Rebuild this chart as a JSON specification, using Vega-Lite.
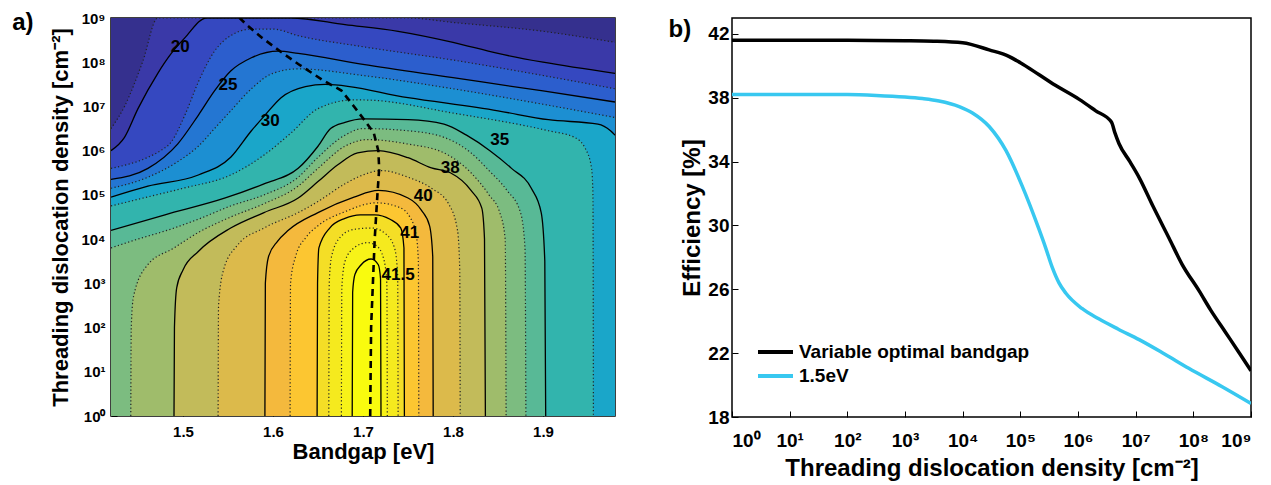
{
"$schema":"https://vega.github.io/schema/vega-lite/v6.json",
"padding":{"left":11,"top":10,"right":5,"bottom":3},
"spacing":51,
"resolve":{"legend":{"color":"independent"}},
"config":{"font":"Liberation Sans","view":{"stroke":"#000","strokeWidth":1.5},
 "axis":{"labelFont":"Liberation Sans","titleFont":"Liberation Sans","labelFontWeight":"bold","titleFontWeight":"bold","labelColor":"#000","titleColor":"#000","domain":false,"grid":false,"tickColor":"#000","tickSize":-6}},
"datasets":{
"cont":[
{"lev":"base","eg":1.42,"d":1e9},{"lev":"base","eg":1.98,"d":1e9},
{"lev":"17.5","eg":1.42,"d":3.16e6},{"lev":"17.5","eg":1.435,"d":1e7},{"lev":"17.5","eg":1.455,"d":1e8},{"lev":"17.5","eg":1.472,"d":1e9},{"lev":"17.5","eg":1.75,"d":1e9},{"lev":"17.5","eg":1.8,"d":7.94e8},{"lev":"17.5","eg":1.9,"d":5.01e8},{"lev":"17.5","eg":1.98,"d":2.82e8},
{"lev":"20","eg":1.42,"d":1e6},{"lev":"20","eg":1.435,"d":2e6},{"lev":"20","eg":1.45,"d":8.91e6},{"lev":"20","eg":1.472,"d":5.62e7},{"lev":"20","eg":1.487,"d":1.58e8},{"lev":"20","eg":1.502,"d":3.55e8},{"lev":"20","eg":1.526,"d":1e9},{"lev":"20","eg":1.62,"d":1e9},{"lev":"20","eg":1.68,"d":7.08e8},{"lev":"20","eg":1.739,"d":5.01e8},{"lev":"20","eg":1.8,"d":2.82e8},{"lev":"20","eg":1.85,"d":1.58e8},{"lev":"20","eg":1.9,"d":1e8},{"lev":"20","eg":1.98,"d":5.62e7},
{"lev":"22.5","eg":1.42,"d":3.98e5},{"lev":"22.5","eg":1.461,"d":7.08e5},{"lev":"22.5","eg":1.475,"d":1e6},{"lev":"22.5","eg":1.487,"d":1.58e6},{"lev":"22.5","eg":1.502,"d":6.31e6},{"lev":"22.5","eg":1.517,"d":3.55e7},{"lev":"22.5","eg":1.535,"d":1.78e8},{"lev":"22.5","eg":1.553,"d":3.98e8},{"lev":"22.5","eg":1.576,"d":5.62e8},{"lev":"22.5","eg":1.6,"d":5.62e8},{"lev":"22.5","eg":1.628,"d":3.98e8},{"lev":"22.5","eg":1.7,"d":2.24e8},{"lev":"22.5","eg":1.8,"d":1.12e8},{"lev":"22.5","eg":1.9,"d":5.01e7},{"lev":"22.5","eg":1.98,"d":2.51e7},
{"lev":"25","eg":1.42,"d":2.24e5},{"lev":"25","eg":1.461,"d":3.98e5},{"lev":"25","eg":1.494,"d":1.41e6},{"lev":"25","eg":1.517,"d":6.31e6},{"lev":"25","eg":1.535,"d":2.24e7},{"lev":"25","eg":1.553,"d":6.31e7},{"lev":"25","eg":1.576,"d":1.26e8},{"lev":"25","eg":1.606,"d":1.78e8},{"lev":"25","eg":1.628,"d":1.58e8},{"lev":"25","eg":1.7,"d":8.91e7},{"lev":"25","eg":1.8,"d":4.47e7},{"lev":"25","eg":1.9,"d":2.24e7},{"lev":"25","eg":1.98,"d":1.26e7},
{"lev":"27.5","eg":1.42,"d":1.41e5},{"lev":"27.5","eg":1.461,"d":2.51e5},{"lev":"27.5","eg":1.494,"d":5.62e5},{"lev":"27.5","eg":1.517,"d":1.26e6},{"lev":"27.5","eg":1.535,"d":3.16e6},{"lev":"27.5","eg":1.553,"d":7.94e6},{"lev":"27.5","eg":1.576,"d":2.51e7},{"lev":"27.5","eg":1.6,"d":5.62e7},{"lev":"27.5","eg":1.628,"d":7.08e7},{"lev":"27.5","eg":1.7,"d":5.01e7},{"lev":"27.5","eg":1.8,"d":2.51e7},{"lev":"27.5","eg":1.9,"d":1.12e7},{"lev":"27.5","eg":1.98,"d":5.62e6},
{"lev":"30","eg":1.42,"d":8.91e4},{"lev":"30","eg":1.461,"d":1.58e5},{"lev":"30","eg":1.517,"d":2.82e5},{"lev":"30","eg":1.553,"d":7.08e5},{"lev":"30","eg":1.576,"d":2.82e6},{"lev":"30","eg":1.591,"d":6.31e6},{"lev":"30","eg":1.609,"d":1.58e7},{"lev":"30","eg":1.636,"d":2.82e7},{"lev":"30","eg":1.658,"d":3.16e7},{"lev":"30","eg":1.75,"d":1.58e7},{"lev":"30","eg":1.85,"d":7.94e6},{"lev":"30","eg":1.906,"d":5.01e6},{"lev":"30","eg":1.961,"d":3.98e6},{"lev":"30","eg":1.975,"d":2.82e6},{"lev":"30","eg":1.98,"d":2.24e6},
{"lev":"32.5","eg":1.42,"d":5.62e4},{"lev":"32.5","eg":1.46,"d":8.91e4},{"lev":"32.5","eg":1.5,"d":1.41e5},{"lev":"32.5","eg":1.553,"d":2.82e5},{"lev":"32.5","eg":1.59,"d":7.94e5},{"lev":"32.5","eg":1.62,"d":2.51e6},{"lev":"32.5","eg":1.65,"d":8.91e6},{"lev":"32.5","eg":1.69,"d":1.41e7},{"lev":"32.5","eg":1.71,"d":1.38e7},{"lev":"32.5","eg":1.8,"d":7.08e6},{"lev":"32.5","eg":1.906,"d":2.82e6},{"lev":"32.5","eg":1.935,"d":2e6},{"lev":"32.5","eg":1.947,"d":1.12e6},{"lev":"32.5","eg":1.954,"d":3.98e5},{"lev":"32.5","eg":1.9555,"d":1e5},{"lev":"32.5","eg":1.956,"d":1},
{"lev":"35","eg":1.42,"d":1.58e4},{"lev":"35","eg":1.48,"d":3.55e4},{"lev":"35","eg":1.547,"d":8.51e4},{"lev":"35","eg":1.59,"d":1.78e5},{"lev":"35","eg":1.628,"d":3.98e5},{"lev":"35","eg":1.65,"d":1.26e6},{"lev":"35","eg":1.664,"d":3.16e6},{"lev":"35","eg":1.68,"d":4.37e6},{"lev":"35","eg":1.7,"d":5.25e6},{"lev":"35","eg":1.75,"d":5.01e6},{"lev":"35","eg":1.79,"d":3.98e6},{"lev":"35","eg":1.815,"d":2.24e6},{"lev":"35","eg":1.841,"d":1e6},{"lev":"35","eg":1.865,"d":3.98e5},{"lev":"35","eg":1.887,"d":1.41e5},{"lev":"35","eg":1.898,"d":3.98e4},{"lev":"35","eg":1.902,"d":3.16e3},{"lev":"35","eg":1.903,"d":1},
{"lev":"36","eg":1.42,"d":6.31e3},{"lev":"36","eg":1.442,"d":8.91e3},{"lev":"36","eg":1.49,"d":1.78e4},{"lev":"36","eg":1.517,"d":2.82e4},{"lev":"36","eg":1.553,"d":5.62e4},{"lev":"36","eg":1.59,"d":1e5},{"lev":"36","eg":1.628,"d":2.51e5},{"lev":"36","eg":1.65,"d":7.08e5},{"lev":"36","eg":1.68,"d":2.24e6},{"lev":"36","eg":1.7,"d":3.16e6},{"lev":"36","eg":1.75,"d":2.82e6},{"lev":"36","eg":1.79,"d":2e6},{"lev":"36","eg":1.82,"d":8.91e5},{"lev":"36","eg":1.84,"d":3.55e5},{"lev":"36","eg":1.86,"d":1.26e5},{"lev":"36","eg":1.875,"d":3.98e4},{"lev":"36","eg":1.88,"d":6.31e3},{"lev":"36","eg":1.881,"d":1},
{"lev":"37","eg":1.442,"d":1},{"lev":"37","eg":1.4425,"d":100},{"lev":"37","eg":1.445,"d":501},{"lev":"37","eg":1.46,"d":2.51e3},{"lev":"37","eg":1.49,"d":6.31e3},{"lev":"37","eg":1.517,"d":1.41e4},{"lev":"37","eg":1.553,"d":3.16e4},{"lev":"37","eg":1.59,"d":6.31e4},{"lev":"37","eg":1.628,"d":1.58e5},{"lev":"37","eg":1.65,"d":3.98e5},{"lev":"37","eg":1.68,"d":1.26e6},{"lev":"37","eg":1.705,"d":1.78e6},{"lev":"37","eg":1.75,"d":1.41e6},{"lev":"37","eg":1.79,"d":8.91e5},{"lev":"37","eg":1.82,"d":3.16e5},{"lev":"37","eg":1.84,"d":1e5},{"lev":"37","eg":1.852,"d":3.98e4},{"lev":"37","eg":1.858,"d":1e4},{"lev":"37","eg":1.859,"d":1},
{"lev":"38","eg":1.49,"d":1},{"lev":"38","eg":1.4905,"d":100},{"lev":"38","eg":1.493,"d":794},{"lev":"38","eg":1.5,"d":2e3},{"lev":"38","eg":1.517,"d":5.25e3},{"lev":"38","eg":1.553,"d":1.78e4},{"lev":"38","eg":1.59,"d":3.98e4},{"lev":"38","eg":1.628,"d":8.51e4},{"lev":"38","eg":1.65,"d":2e5},{"lev":"38","eg":1.672,"d":4.79e5},{"lev":"38","eg":1.694,"d":8.91e5},{"lev":"38","eg":1.717,"d":1e6},{"lev":"38","eg":1.75,"d":6.92e5},{"lev":"38","eg":1.776,"d":4.07e5},{"lev":"38","eg":1.797,"d":3.16e5},{"lev":"38","eg":1.82,"d":1.26e5},{"lev":"38","eg":1.832,"d":5.01e4},{"lev":"38","eg":1.835,"d":1e4},{"lev":"38","eg":1.836,"d":1},
{"lev":"39","eg":1.539,"d":1},{"lev":"39","eg":1.5395,"d":316},{"lev":"39","eg":1.545,"d":2e3},{"lev":"39","eg":1.56,"d":7.08e3},{"lev":"39","eg":1.59,"d":1.78e4},{"lev":"39","eg":1.628,"d":3.98e4},{"lev":"39","eg":1.65,"d":7.08e4},{"lev":"39","eg":1.68,"d":1.78e5},{"lev":"39","eg":1.7,"d":2.82e5},{"lev":"39","eg":1.72,"d":3.55e5},{"lev":"39","eg":1.75,"d":2.51e5},{"lev":"39","eg":1.776,"d":1.41e5},{"lev":"39","eg":1.795,"d":6.31e4},{"lev":"39","eg":1.805,"d":1.58e4},{"lev":"39","eg":1.8075,"d":2e3},{"lev":"39","eg":1.808,"d":1},
{"lev":"40","eg":1.591,"d":1},{"lev":"40","eg":1.5915,"d":1e3},{"lev":"40","eg":1.595,"d":3.98e3},{"lev":"40","eg":1.605,"d":8.91e3},{"lev":"40","eg":1.617,"d":1.58e4},{"lev":"40","eg":1.65,"d":3.98e4},{"lev":"40","eg":1.69,"d":8.91e4},{"lev":"40","eg":1.717,"d":1.26e5},{"lev":"40","eg":1.75,"d":8.51e4},{"lev":"40","eg":1.765,"d":4.47e4},{"lev":"40","eg":1.774,"d":2e4},{"lev":"40","eg":1.7775,"d":3.98e3},{"lev":"40","eg":1.778,"d":1},
{"lev":"40.5","eg":1.619,"d":1},{"lev":"40.5","eg":1.6195,"d":1e3},{"lev":"40.5","eg":1.625,"d":3.98e3},{"lev":"40.5","eg":1.637,"d":1.12e4},{"lev":"40.5","eg":1.65,"d":2e4},{"lev":"40.5","eg":1.68,"d":4.17e4},{"lev":"40.5","eg":1.715,"d":6.61e4},{"lev":"40.5","eg":1.74,"d":5.25e4},{"lev":"40.5","eg":1.752,"d":3.16e4},{"lev":"40.5","eg":1.759,"d":1.26e4},{"lev":"40.5","eg":1.7615,"d":3.16e3},{"lev":"40.5","eg":1.762,"d":1},
{"lev":"41","eg":1.649,"d":1},{"lev":"41","eg":1.6495,"d":1e3},{"lev":"41","eg":1.651,"d":6.31e3},{"lev":"41","eg":1.663,"d":1.78e4},{"lev":"41","eg":1.68,"d":2.95e4},{"lev":"41","eg":1.697,"d":3.55e4},{"lev":"41","eg":1.713,"d":3.55e4},{"lev":"41","eg":1.73,"d":2.82e4},{"lev":"41","eg":1.742,"d":1.78e4},{"lev":"41","eg":1.7455,"d":6.31e3},{"lev":"41","eg":1.746,"d":1},
{"lev":"41.17","eg":1.662,"d":1},{"lev":"41.17","eg":1.6625,"d":1e3},{"lev":"41.17","eg":1.665,"d":3.98e3},{"lev":"41.17","eg":1.675,"d":1.12e4},{"lev":"41.17","eg":1.69,"d":1.66e4},{"lev":"41.17","eg":1.71,"d":1.78e4},{"lev":"41.17","eg":1.725,"d":1.32e4},{"lev":"41.17","eg":1.735,"d":6.31e3},{"lev":"41.17","eg":1.7385,"d":1.58e3},{"lev":"41.17","eg":1.739,"d":1},
{"lev":"41.33","eg":1.676,"d":1},{"lev":"41.33","eg":1.6765,"d":794},{"lev":"41.33","eg":1.68,"d":3.16e3},{"lev":"41.33","eg":1.69,"d":6.31e3},{"lev":"41.33","eg":1.705,"d":8.32e3},{"lev":"41.33","eg":1.715,"d":7.08e3},{"lev":"41.33","eg":1.723,"d":3.55e3},{"lev":"41.33","eg":1.7265,"d":1e3},{"lev":"41.33","eg":1.727,"d":1},
{"lev":"41.5","eg":1.688,"d":1},{"lev":"41.5","eg":1.6885,"d":631},{"lev":"41.5","eg":1.691,"d":1.58e3},{"lev":"41.5","eg":1.698,"d":2.63e3},{"lev":"41.5","eg":1.709,"d":3.55e3},{"lev":"41.5","eg":1.717,"d":2.63e3},{"lev":"41.5","eg":1.7195,"d":1.26e3},{"lev":"41.5","eg":1.72,"d":1}
],
"opt":[
{"eg":1.708,"d":1},{"eg":1.709,"d":100},{"eg":1.711,"d":1e3},{"eg":1.713,"d":1e4},{"eg":1.716,"d":1e5},{"eg":1.718,"d":3.98e5},{"eg":1.717,"d":1e6},{"eg":1.712,"d":2.51e6},{"eg":1.702,"d":4.79e6},{"eg":1.69,"d":1e7},{"eg":1.676,"d":2.29e7},{"eg":1.655,"d":3.98e7},{"eg":1.628,"d":9.12e7},{"eg":1.609,"d":1.7e8},{"eg":1.588,"d":3.55e8},{"eg":1.57,"d":7.24e8},{"eg":1.563,"d":1e9}
],
"lab":[
{"t":"20","eg":1.497,"d":2.19e8},{"t":"25","eg":1.55,"d":3.02e7},{"t":"30","eg":1.597,"d":4.79e6},{"t":"35","eg":1.852,"d":1.7e6},{"t":"38","eg":1.797,"d":4.07e5},{"t":"40","eg":1.767,"d":9.55e4},{"t":"41","eg":1.752,"d":1.38e4},{"t":"41.5","eg":1.739,"d":1.51e3}
],
"eff":[
{"s":"Variable optimal bandgap","d":1,"e":41.6},{"s":"Variable optimal bandgap","d":10,"e":41.6},{"s":"Variable optimal bandgap","d":100,"e":41.6},{"s":"Variable optimal bandgap","d":1e3,"e":41.58},{"s":"Variable optimal bandgap","d":3.16e3,"e":41.55},{"s":"Variable optimal bandgap","d":1e4,"e":41.45},{"s":"Variable optimal bandgap","d":2.88e4,"e":41.0},{"s":"Variable optimal bandgap","d":6.31e4,"e":40.6},{"s":"Variable optimal bandgap","d":1e5,"e":40.2},{"s":"Variable optimal bandgap","d":2.09e5,"e":39.46},{"s":"Variable optimal bandgap","d":3.98e5,"e":38.8},{"s":"Variable optimal bandgap","d":1.05e6,"e":37.9},{"s":"Variable optimal bandgap","d":2e6,"e":37.2},{"s":"Variable optimal bandgap","d":3.8e6,"e":36.48},{"s":"Variable optimal bandgap","d":4.37e6,"e":35.8},{"s":"Variable optimal bandgap","d":5.13e6,"e":35.14},{"s":"Variable optimal bandgap","d":7.94e6,"e":34.0},{"s":"Variable optimal bandgap","d":1.15e7,"e":33.0},{"s":"Variable optimal bandgap","d":2e7,"e":31.2},{"s":"Variable optimal bandgap","d":3.8e7,"e":29.2},{"s":"Variable optimal bandgap","d":6.31e7,"e":27.6},{"s":"Variable optimal bandgap","d":1.26e8,"e":25.9},{"s":"Variable optimal bandgap","d":2e8,"e":24.7},{"s":"Variable optimal bandgap","d":3.63e8,"e":23.3},{"s":"Variable optimal bandgap","d":6.31e8,"e":22.0},{"s":"Variable optimal bandgap","d":1e9,"e":20.9},
{"s":"1.5eV","d":1,"e":38.2},{"s":"1.5eV","d":10,"e":38.2},{"s":"1.5eV","d":100,"e":38.2},{"s":"1.5eV","d":316,"e":38.15},{"s":"1.5eV","d":1e3,"e":38.05},{"s":"1.5eV","d":2e3,"e":37.95},{"s":"1.5eV","d":3.89e3,"e":37.8},{"s":"1.5eV","d":8.71e3,"e":37.45},{"s":"1.5eV","d":1.48e4,"e":37.05},{"s":"1.5eV","d":2.88e4,"e":36.2},{"s":"1.5eV","d":5.62e4,"e":34.7},{"s":"1.5eV","d":1.07e5,"e":32.5},{"s":"1.5eV","d":2.09e5,"e":29.8},{"s":"1.5eV","d":2.75e5,"e":28.6},{"s":"1.5eV","d":3.55e5,"e":27.4},{"s":"1.5eV","d":4.68e5,"e":26.4},{"s":"1.5eV","d":6.17e5,"e":25.75},{"s":"1.5eV","d":1.17e6,"e":24.8},{"s":"1.5eV","d":2.29e6,"e":24.15},{"s":"1.5eV","d":5.01e6,"e":23.5},{"s":"1.5eV","d":1.15e7,"e":22.85},{"s":"1.5eV","d":3.16e7,"e":21.95},{"s":"1.5eV","d":8.32e7,"e":21.05},{"s":"1.5eV","d":3.16e8,"e":19.9},{"s":"1.5eV","d":1e9,"e":18.85}
]
},
"hconcat":[
{
"width":504,"height":398,
"title":{"text":"a)","orient":"left","anchor":"end","angle":0,"align":"right","baseline":"top","fontSize":24,"fontWeight":"bold","font":"Liberation Sans","color":"#000","offset":-5},
"data":{"name":"cont"},
"encoding":{
 "x":{"field":"eg","type":"quantitative","scale":{"domain":[1.42,1.98],"nice":false,"zero":false},
  "axis":{"title":"Bandgap [eV]","values":[1.5,1.6,1.7,1.8,1.9],"format":".1f","labelFontSize":15,"titleFontSize":22,"labelPadding":14,"titlePadding":2}},
 "y":{"field":"d","type":"quantitative","scale":{"type":"log","domain":[1,1e9],"nice":false},
  "axis":{"title":"Threading dislocation density [cm⁻²]","values":[1,10,100,1000,10000,100000,1000000,10000000,100000000,1000000000],"labelExpr":"'10' + ['⁰','¹','²','³','⁴','⁵','⁶','⁷','⁸','⁹'][round(log(datum.value)/LN10)]","labelFontSize":15,"titleFontSize":22,"labelPadding":12,"titlePadding":8}}
},
"layer":[
 {"transform":[{"filter":"datum.lev=='base'"}],"mark":{"type":"area","color":"#35308e","clip":true},"encoding":{"y2":{"datum":1}}},
 {"transform":[{"filter":"datum.lev=='17.5'"}],"mark":{"type":"area","color":"#3a39a8","interpolate":"monotone","clip":true},"encoding":{"y2":{"datum":1}}},
 {"transform":[{"filter":"datum.lev=='20'"}],"mark":{"type":"area","color":"#3548c0","interpolate":"monotone","clip":true},"encoding":{"y2":{"datum":1}}},
 {"transform":[{"filter":"datum.lev=='22.5'"}],"mark":{"type":"area","color":"#2c5ecd","interpolate":"monotone","clip":true},"encoding":{"y2":{"datum":1}}},
 {"transform":[{"filter":"datum.lev=='25'"}],"mark":{"type":"area","color":"#2476d2","interpolate":"monotone","clip":true},"encoding":{"y2":{"datum":1}}},
 {"transform":[{"filter":"datum.lev=='27.5'"}],"mark":{"type":"area","color":"#1c8fd2","interpolate":"monotone","clip":true},"encoding":{"y2":{"datum":1}}},
 {"transform":[{"filter":"datum.lev=='30'"}],"mark":{"type":"area","color":"#1aa6c9","interpolate":"monotone","clip":true},"encoding":{"y2":{"datum":1}}},
 {"transform":[{"filter":"datum.lev=='32.5'"}],"mark":{"type":"area","color":"#32b4ad","interpolate":"monotone","clip":true},"encoding":{"y2":{"datum":1}}},
 {"transform":[{"filter":"datum.lev=='35'"}],"mark":{"type":"area","color":"#58b996","interpolate":"monotone","clip":true},"encoding":{"y2":{"datum":1}}},
 {"transform":[{"filter":"datum.lev=='36'"}],"mark":{"type":"area","color":"#7cbc80","interpolate":"monotone","clip":true},"encoding":{"y2":{"datum":1}}},
 {"transform":[{"filter":"datum.lev=='37'"}],"mark":{"type":"area","color":"#9fbc6b","interpolate":"monotone","clip":true},"encoding":{"y2":{"datum":1}}},
 {"transform":[{"filter":"datum.lev=='38'"}],"mark":{"type":"area","color":"#c2bb5a","interpolate":"monotone","clip":true},"encoding":{"y2":{"datum":1}}},
 {"transform":[{"filter":"datum.lev=='39'"}],"mark":{"type":"area","color":"#dcba4b","interpolate":"monotone","clip":true},"encoding":{"y2":{"datum":1}}},
 {"transform":[{"filter":"datum.lev=='40'"}],"mark":{"type":"area","color":"#f4b93d","interpolate":"monotone","clip":true},"encoding":{"y2":{"datum":1}}},
 {"transform":[{"filter":"datum.lev=='40.5'"}],"mark":{"type":"area","color":"#fcc631","interpolate":"monotone","clip":true},"encoding":{"y2":{"datum":1}}},
 {"transform":[{"filter":"datum.lev=='41'"}],"mark":{"type":"area","color":"#f4de26","interpolate":"monotone","clip":true},"encoding":{"y2":{"datum":1}}},
 {"transform":[{"filter":"datum.lev=='41.17'"}],"mark":{"type":"area","color":"#f5ea1e","interpolate":"monotone","clip":true},"encoding":{"y2":{"datum":1}}},
 {"transform":[{"filter":"datum.lev=='41.33'"}],"mark":{"type":"area","color":"#f7f318","interpolate":"monotone","clip":true},"encoding":{"y2":{"datum":1}}},
 {"transform":[{"filter":"datum.lev=='41.5'"}],"mark":{"type":"area","color":"#f9fb0e","interpolate":"monotone","clip":true},"encoding":{"y2":{"datum":1}}},
 {"transform":[{"filter":{"field":"lev","oneOf":["17.5","22.5","27.5","32.5","36","37","39","40.5","41.17","41.33"]}}],"mark":{"type":"line","color":"#222","strokeWidth":1.2,"strokeDash":[1.2,2.4],"interpolate":"monotone","clip":true},"encoding":{"detail":{"field":"lev"}}},
 {"transform":[{"filter":{"field":"lev","oneOf":["20","25","30","35","38","40","41","41.5"]}}],"mark":{"type":"line","color":"#000","strokeWidth":1.3,"interpolate":"monotone","clip":true},"encoding":{"detail":{"field":"lev"}}},
 {"data":{"name":"opt"},"mark":{"type":"line","color":"#000","strokeWidth":2.6,"strokeDash":[7,5],"clip":true},"encoding":{"order":{"field":"d","type":"quantitative"}}},
 {"data":{"name":"lab"},"mark":{"type":"text","fontSize":17,"fontWeight":"bold","font":"Liberation Sans","color":"#000"},"encoding":{"text":{"field":"t"}}}
]
},
{
"width":519,"height":399,
"title":{"text":"b)","orient":"left","anchor":"end","angle":0,"align":"right","baseline":"top","fontSize":24,"fontWeight":"bold","font":"Liberation Sans","color":"#000","offset":-33},
"data":{"name":"eff"},
"mark":{"type":"line","strokeWidth":3.5,"interpolate":"monotone","clip":true},
"encoding":{
 "x":{"field":"d","type":"quantitative","scale":{"type":"log","domain":[1,1e9],"nice":false},
  "axis":{"title":"Threading dislocation density [cm⁻²]","values":[1,10,100,1000,10000,100000,1000000,10000000,100000000,1000000000],"labelExpr":"'10' + ['⁰','¹','²','³','⁴','⁵','⁶','⁷','⁸','⁹'][round(log(datum.value)/LN10)]","labelFontSize":19,"titleFontSize":24,"labelPadding":20,"titlePadding":6}},
 "y":{"field":"e","type":"quantitative","scale":{"domain":[18,43],"nice":false,"zero":false},
  "axis":{"title":"Efficiency [%]","values":[18,22,26,30,34,38,42],"labelFontSize":19,"titleFontSize":24,"labelPadding":9,"titlePadding":3}},
 "color":{"field":"s","type":"nominal","scale":{"domain":["Variable optimal bandgap","1.5eV"],"range":["#000000","#38c8f0"]},
  "legend":{"orient":"none","legendX":24,"legendY":322,"title":null,"symbolType":"stroke","symbolSize":1225,"symbolStrokeWidth":4,"clipHeight":24,"labelFontSize":19,"labelFontWeight":"bold","labelFont":"Liberation Sans","labelColor":"#000","labelLimit":400,"rowPadding":0,"labelOffset":4}}
}
}
]
}
